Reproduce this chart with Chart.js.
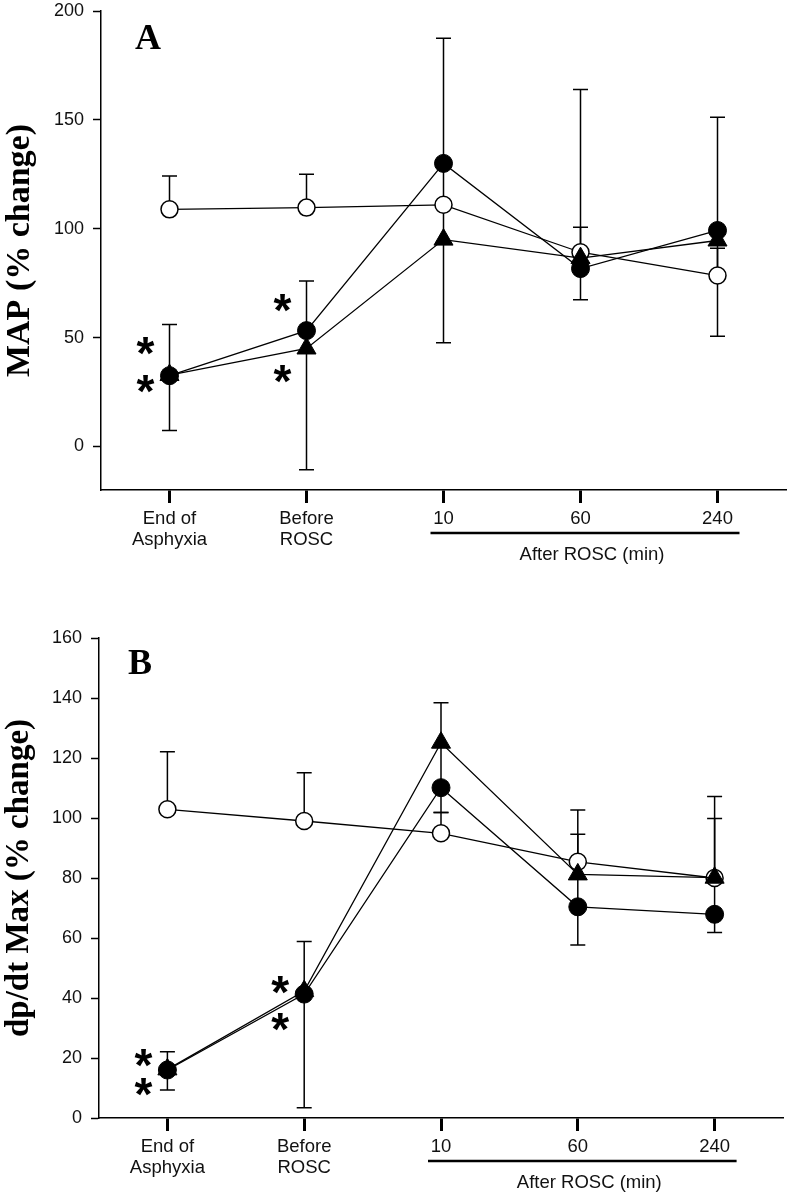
<!DOCTYPE html>
<html>
<head>
<meta charset="utf-8">
<script src="https://cdn.jsdelivr.net/npm/chart.js@4"></script>
<style>
  body { margin: 0; background: #fff; }
  .panel { position: absolute; left: 0; width: 790px; }
</style>
</head>
<body>
<div class="panel" style="top:0;height:600px"><canvas id="mapChart" width="790" height="600"></canvas></div>
<div class="panel" style="top:600px;height:599px"><canvas id="dpdtChart" width="790" height="599"></canvas></div>
<script>
var categories = [['End of', 'Asphyxia'], ['Before', 'ROSC'], '10', '60', '240'];

// panel A - MAP
var mapControl = [108.9, 109.7, 111, 89.2, 78.5];
var mapControlUp = [124.2, 125, 130, 100.7, 91];
var mapCircle = [32.5, 53.2, 130, 81.7, 99.2];
var mapCircleUp = [56, 76, 187.5, 164, 151.2];
var mapTriangle = [32.8, 45, 95, 86.5, 94.6];
var mapTriangleUp = [null, null, 111, null, null];
var mapTriangleDown = [7.3, -10.7, 47.6, 67.4, 50.6];
var mapTicks = [0, 50, 100, 150, 200];
var mapStars = [[0, 46.3], [0, 28.8], [1, 66], [1, 33.4]];

// panel B - dp/dt Max
var dpControl = [102.9, 99, 94.9, 85.4, 80];
var dpControlUp = [122.1, 115.1, 101.8, 94.6, 99.8];
var dpCircle = [16, 41.3, 110.1, 70.4, 67.9];
var dpCircleDown = [9.3, 3.4, 101.8, 57.7, 61.8];
var dpTriangle = [16.2, 42.3, 125.1, 81.2, 80.1];
var dpTriangleUp = [22.1, 58.8, 138.4, 102.7, 107.2];
var dpTriangleDown = [null, null, 110.1, 70.4, 67.9];
var dpTicks = [0, 20, 40, 60, 80, 100, 120, 140, 160];
var dpStars = [[0, 20], [0, 10.3], [1, 44.3], [1, 32]];

var sansFont = 'Liberation Sans, Arial, sans-serif';
var serifFont = 'Liberation Serif, Times New Roman, serif';

var extras = {
  id: 'extras',
  beforeDatasetsDraw: function (chart) {
    var o = chart.options.plugins.extras;
    var xs = chart.scales.x, ys = chart.scales.y, ctx = chart.ctx;
    ctx.save();
    ctx.strokeStyle = '#000';
    ctx.lineWidth = 1.5;
    o.bars.forEach(function (b) {
      b.mid.forEach(function (v, i) {
        var end = b.end[i];
        if (end == null) return;
        var px = xs.getPixelForValue(i);
        var y0 = ys.getPixelForValue(v), y1 = ys.getPixelForValue(end);
        ctx.beginPath();
        ctx.moveTo(px, y0);
        ctx.lineTo(px, y1);
        ctx.moveTo(px - 7.5, y1);
        ctx.lineTo(px + 7.5, y1);
        ctx.stroke();
      });
    });
    ctx.restore();
  },
  afterDraw: function (chart) {
    var o = chart.options.plugins.extras;
    var xs = chart.scales.x, ys = chart.scales.y, ctx = chart.ctx;
    var area = chart.chartArea;
    ctx.save();
    ctx.fillStyle = '#000';

    // asterisks, centred on their spot by the glyph's own box
    ctx.font = 'bold 46px ' + sansFont;
    ctx.textAlign = 'left';
    ctx.textBaseline = 'alphabetic';
    var m = ctx.measureText('*');
    var dx = (m.actualBoundingBoxLeft - m.actualBoundingBoxRight) / 2;
    var dy = (m.actualBoundingBoxAscent - m.actualBoundingBoxDescent) / 2;
    o.stars.forEach(function (s) {
      ctx.fillText('*', xs.getPixelForValue(s[0]) - 24 + dx, ys.getPixelForValue(s[1]) + dy);
    });

    // panel letter
    ctx.font = 'bold 36px ' + serifFont;
    ctx.fillText(o.letter, area.left + o.letterDx, area.top + o.letterDy);

    // bracket under the after-ROSC times
    var x1 = xs.getPixelForValue(2) - 13, x2 = xs.getPixelForValue(4) + 22;
    ctx.strokeStyle = '#000';
    ctx.lineWidth = 2.5;
    ctx.beginPath();
    ctx.moveTo(x1, xs.top + 43);
    ctx.lineTo(x2, xs.top + 43);
    ctx.stroke();
    ctx.font = '18.5px ' + sansFont;
    ctx.fillStyle = '#111';
    ctx.textAlign = 'center';
    ctx.textBaseline = 'middle';
    ctx.fillText('After ROSC (min)', (x1 + x2) / 2 + 7, xs.top + 65);
    ctx.restore();
  }
};

function makeChart(id, opt) {
  var ctx = document.getElementById(id).getContext('2d');
  return new Chart(ctx, {
    type: 'line',
    data: {
      labels: categories,
      datasets: [{
        data: opt.circle,
        borderColor: '#000', borderWidth: 1.3,
        pointStyle: 'circle', pointRadius: 9,
        pointBackgroundColor: '#000', pointBorderColor: '#000', pointBorderWidth: 1
      }, {
        data: opt.triangle,
        borderColor: '#000', borderWidth: 1.3,
        pointStyle: 'triangle', pointRadius: 11,
        pointBackgroundColor: '#000', pointBorderColor: '#000', pointBorderWidth: 1
      }, {
        data: opt.control,
        borderColor: '#000', borderWidth: 1.3,
        pointStyle: 'circle', pointRadius: 8.5,
        pointBackgroundColor: '#fff', pointBorderColor: '#000', pointBorderWidth: 1.5
      }]
    },
    options: {
      responsive: false,
      animation: false,
      devicePixelRatio: 1,
      layout: { padding: opt.padding, autoPadding: false },
      plugins: {
        legend: { display: false },
        tooltip: { enabled: false },
        extras: {
          bars: opt.bars,
          stars: opt.stars,
          letter: opt.letter,
          letterDx: opt.letterDx,
          letterDy: opt.letterDy
        }
      },
      scales: {
        x: {
          type: 'category',
          offset: true,
          grid: {
            drawOnChartArea: false, drawTicks: true, tickLength: 13,
            tickWidth: 3, tickColor: '#000', offset: false
          },
          border: { display: true, color: '#000', width: 1.5 },
          ticks: {
            color: '#111', padding: 6, maxRotation: 0, autoSkip: false,
            font: { family: sansFont, size: 18.5, lineHeight: 1.1 }
          },
          afterFit: function (s) {
            s.height = opt.xHeight;
            s.paddingLeft = 0;
            s.paddingRight = 0;
          }
        },
        y: {
          min: opt.min, max: opt.max,
          afterBuildTicks: function (s) {
            s.ticks = opt.ticks.map(function (v) { return { value: v }; });
          },
          grid: {
            drawOnChartArea: false, drawTicks: true, tickLength: 8,
            tickWidth: 1.5, tickColor: '#000'
          },
          border: { display: true, color: '#000', width: 1.5 },
          ticks: {
            color: '#111', padding: 9,
            font: { family: sansFont, size: 18 }
          },
          title: {
            display: true, text: opt.title, color: '#000',
            padding: { top: 0, bottom: 0 },
            font: { family: serifFont, size: opt.titleSize, weight: 'bold' }
          },
          afterFit: function (s) {
            s.width = opt.yWidth;
            s.paddingTop = 0;
            s.paddingBottom = 0;
          }
        }
      }
    },
    plugins: [extras]
  });
}

makeChart('mapChart', {
  circle: mapCircle, triangle: mapTriangle, control: mapControl,
  bars: [
    { mid: mapControl, end: mapControlUp },
    { mid: mapCircle, end: mapCircleUp },
    { mid: mapTriangle, end: mapTriangleUp },
    { mid: mapTriangle, end: mapTriangleDown }
  ],
  stars: mapStars, ticks: mapTicks, min: -20, max: 200,
  title: 'MAP (% change)', titleSize: 34,
  letter: 'A', letterDx: 34, letterDy: 38,
  padding: { top: 11, right: 4, left: 0, bottom: 0 },
  yWidth: 101, xHeight: 110
});

makeChart('dpdtChart', {
  circle: dpCircle, triangle: dpTriangle, control: dpControl,
  bars: [
    { mid: dpControl, end: dpControlUp },
    { mid: dpCircle, end: dpCircleDown },
    { mid: dpTriangle, end: dpTriangleUp },
    { mid: dpTriangle, end: dpTriangleDown }
  ],
  stars: dpStars, ticks: dpTicks, min: 0, max: 160,
  title: 'dp/dt Max (% change)', titleSize: 33,
  letter: 'B', letterDx: 29, letterDy: 36,
  padding: { top: 38, right: 7, left: 0, bottom: 0 },
  yWidth: 99, xHeight: 81
});
</script>
</body>
</html>
